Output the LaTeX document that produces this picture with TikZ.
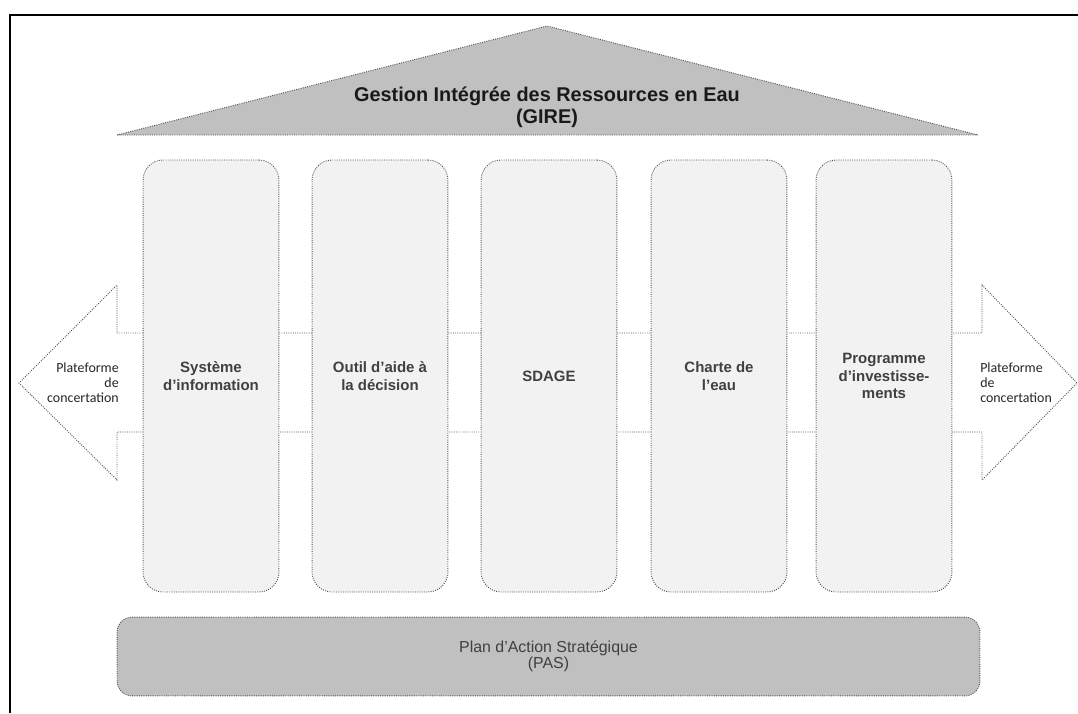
\documentclass[tikz,border=0pt]{standalone}
\usepackage{fontspec}
\setmainfont{Liberation Sans}
\newfontfamily\sidefont{Carlito}
\usepackage{tikz}
\definecolor{roofgray}{HTML}{C0C0C0}
\definecolor{pillargray}{HTML}{F2F2F2}
\definecolor{edgegray}{HTML}{505050}
\definecolor{textgray}{HTML}{404040}

\begin{document}
\begin{tikzpicture}[x=0.0265cm, y=-0.0265cm,
  edge/.style={draw=edgegray, densely dotted, line width=0.7pt},
  pillar/.style={edge, fill=pillargray, rounded corners=0.53cm, minimum width=3.6cm, minimum height=11.45cm, inner sep=0pt, align=center, text=textgray, font=\fontsize{11.3}{13.2}\selectfont\bfseries},
  sidetext/.style={font=\sidefont\fontsize{10.5}{11.3}\selectfont, text=black!85}]
\useasboundingbox (0,0) rectangle (1078,713);
% frame
\draw[line width=1.5pt] (10,713) -- (10,15) -- (1078,15);
% roof
\draw[edge, fill=roofgray] (117,135) -- (547,26) -- (978,135) -- cycle;
\node[align=center, font=\fontsize{15}{16.8}\selectfont\bfseries, text=black!90] (gire) at (547,107) {Gestion Intégrée des Ressources en Eau\\(GIRE)};
%
% double arrow behind the pillars
\draw[edge, fill=white] (117,333) -- (982,333) -- (982,285) -- (1077,383) -- (982,480) -- (982,432)
  -- (117,432) -- (117,480) -- (19,383) -- (117,285) -- cycle;
\node[sidetext, align=right, anchor=east, inner sep=0pt] (concleft) at (119,383) {Plateforme\\de\\concertation};
\node[sidetext, align=left, anchor=west, inner sep=0pt] (concright) at (980,383) {Plateforme\\de\\concertation};
%
% pillars
\node[pillar] (sysinfo) at (211,376) {Système\\d’information};
\node[pillar] (outil) at (380,376) {Outil d’aide à\\la décision};
\node[pillar] (sdage) at (549,376) {SDAGE};
\node[pillar] (charte) at (719,376) {Charte de\\l’eau};
\node[pillar] (progr) at (884,376) {Programme\\d’investisse-\\ments};
%
% base
\node[edge, fill=roofgray, rounded corners=0.4cm, minimum width=22.87cm, minimum height=2.09cm, align=center, text=textgray, font=\fontsize{12}{11.8}\selectfont] (pas) at (548.5,656.5) {Plan d’Action Stratégique\\(PAS)};
\end{tikzpicture}
\end{document}
